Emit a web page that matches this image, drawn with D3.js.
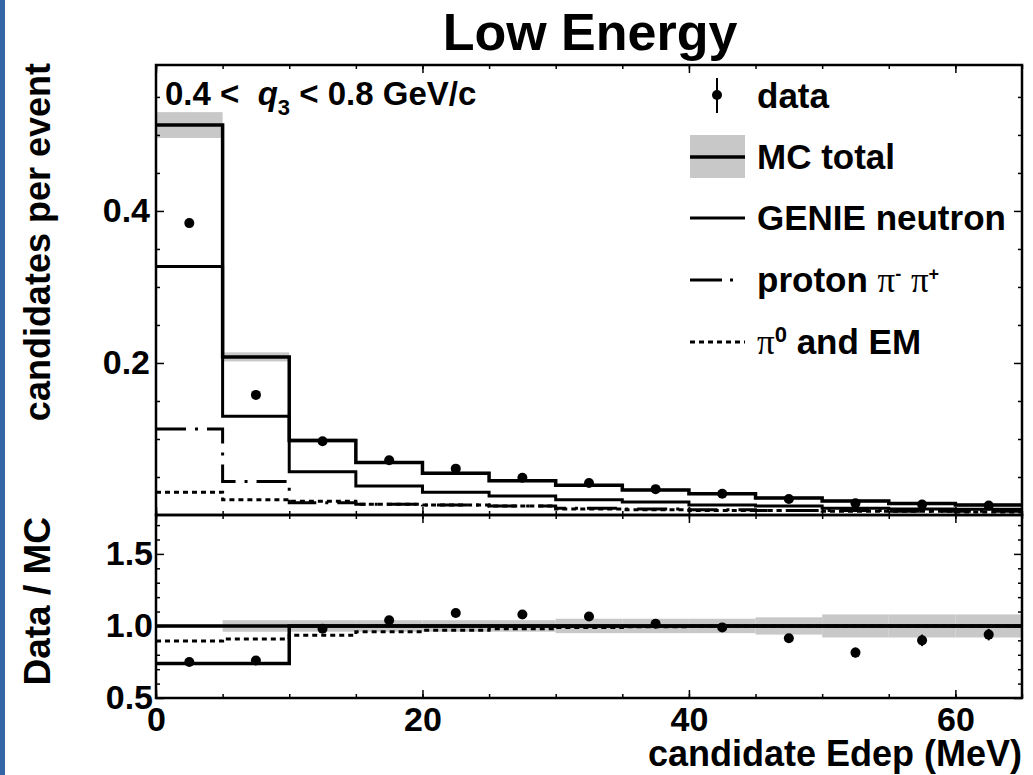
<!DOCTYPE html>
<html>
<head>
<meta charset="utf-8">
<script src="https://cdn.jsdelivr.net/npm/d3@7"></script>
<style>
  body { margin: 0; background: #fff; }
  svg text { font-family: "Liberation Sans", Arial, Helvetica, sans-serif; font-weight: bold; fill: #000; white-space: pre; }
  .serif { font-family: "Liberation Serif", "DejaVu Serif", serif; font-weight: normal; }
</style>
</head>
<body>
<script>
// ---- values ----
var binEdges = [0, 5, 10, 15, 20, 25, 30, 35, 40, 45, 50, 55, 60, 65];
var binCenters = [2.5, 7.5, 12.5, 17.5, 22.5, 27.5, 32.5, 37.5, 42.5, 47.5, 52.5, 57.5, 62.5];

// upper panel: candidates per event
var mcTotal      = [0.513, 0.208, 0.098, 0.069, 0.055, 0.045, 0.039, 0.033, 0.028, 0.0225, 0.0185, 0.015, 0.013];
var mcBand       = [0.017, 0.006, 0.003, 0.002, 0.002, 0.002, 0.002, 0.002, 0.002, 0.002, 0.002, 0.002, 0.002];
var genieNeutron = [0.327, 0.130, 0.057, 0.038, 0.030, 0.025, 0.020, 0.017, 0.013, 0.012, 0.009, 0.008, 0.0075];
var protonPion   = [0.113, 0.044, 0.016, 0.014, 0.013, 0.012, 0.009, 0.008, 0.007, 0.006, 0.006, 0.005, 0.005];
var pi0EM        = [0.030, 0.020, 0.018, 0.014, 0.013, 0.012, 0.008, 0.007, 0.006, 0.006, 0.005, 0.005, 0.004];
var dataValues   = [0.384, 0.158, 0.097, 0.072, 0.061, 0.049, 0.042, 0.034, 0.028, 0.021, 0.0155, 0.0138, 0.0124];
var dataErrors   = [0.004, 0.003, 0.002, 0.002, 0.002, 0.002, 0.002, 0.002, 0.002, 0.002, 0.002, 0.002, 0.002];

// lower panel: data / MC
var ratioData   = [0.75, 0.76, 0.98, 1.04, 1.09, 1.08, 1.065, 1.015, 0.99, 0.915, 0.815, 0.90, 0.94];
var ratioErrors = [0.01, 0.01, 0.015, 0.015, 0.02, 0.02, 0.025, 0.025, 0.03, 0.03, 0.035, 0.04, 0.04];
var ratioBand   = [0.01, 0.04, 0.04, 0.04, 0.04, 0.04, 0.05, 0.05, 0.05, 0.06, 0.08, 0.08, 0.08];
var ratioPi0    = [0.895, 0.91, 0.935, 0.96, 0.97, 0.98, 0.99, 0.995, 1.0, 1.0, 1.0, 1.0, 1.0];
var ratioAlt    = [0.74, 0.74, 1.0, 1.0, 1.0, 1.0, 1.0, 1.0, 1.0, 1.0, 1.0, 1.0, 1.0];

var xTicks = [0, 20, 40, 60];
var yTicksTop = [0.2, 0.4];
var yTicksBottom = [0.5, 1.0, 1.5];

// ---- layout ----
var W = 1033, H = 775;
var padL = 156, padR = 1022, padT = 65, splitY = 515, padB = 698;

var svg = d3.select("body").append("svg")
    .attr("width", W)
    .attr("height", H);

// blue strip on the left edge of the slide
svg.append("rect").attr("x", 0).attr("y", 0).attr("width", 5).attr("height", H).attr("fill", "#3465a4");

var x = d3.scaleLinear().domain([0, 65]).range([padL, padR]);
var yTop = d3.scaleLinear().domain([0, 0.592]).range([splitY, padT]);
var yBot = d3.scaleLinear().domain([0.5, 1.77]).range([padB, splitY]);

// step histogram path
function stepPath(values, y) {
  var pts = values.map(function(v, i) { return [binEdges[i], v]; });
  pts.push([binEdges[binEdges.length - 1], values[values.length - 1]]);
  return d3.line()
      .x(function(d) { return x(d[0]); })
      .y(function(d) { return y(d[1]); })
      .curve(d3.curveStepAfter)(pts);
}

var DOTTED = "5,4", DASHDOT = "30,9,3,9";

// ---------- upper panel ----------
var up = svg.append("g");

// MC error band
up.selectAll(".band")
    .data(mcTotal)
    .enter().append("rect")
    .attr("x", function(d, i) { return x(binEdges[i]); })
    .attr("width", function(d, i) { return x(binEdges[i + 1]) - x(binEdges[i]); })
    .attr("y", function(d, i) { return yTop(d + mcBand[i]); })
    .attr("height", function(d, i) { return yTop(d - mcBand[i]) - yTop(d + mcBand[i]); })
    .attr("fill", "#c8c8c8");

up.append("path").attr("d", stepPath(pi0EM, yTop))
    .attr("fill", "none").attr("stroke", "#000").attr("stroke-width", 3).attr("stroke-dasharray", DOTTED);
up.append("path").attr("d", stepPath(protonPion, yTop))
    .attr("fill", "none").attr("stroke", "#000").attr("stroke-width", 3).attr("stroke-dasharray", DASHDOT);
up.append("path").attr("d", stepPath(genieNeutron, yTop))
    .attr("fill", "none").attr("stroke", "#000").attr("stroke-width", 3);
up.append("path").attr("d", stepPath(mcTotal, yTop))
    .attr("fill", "none").attr("stroke", "#000").attr("stroke-width", 3.5);

// data points
up.selectAll(".err")
    .data(dataValues)
    .enter().append("line")
    .attr("x1", function(d, i) { return x(binCenters[i]); })
    .attr("x2", function(d, i) { return x(binCenters[i]); })
    .attr("y1", function(d, i) { return yTop(d - dataErrors[i]); })
    .attr("y2", function(d, i) { return yTop(d + dataErrors[i]); })
    .attr("stroke", "#000").attr("stroke-width", 2);
up.selectAll(".pt")
    .data(dataValues)
    .enter().append("circle")
    .attr("cx", function(d, i) { return x(binCenters[i]); })
    .attr("cy", function(d) { return yTop(d); })
    .attr("r", 5)
    .attr("fill", "#000");

// ---------- lower panel ----------
var lo = svg.append("g");

lo.selectAll(".rband")
    .data(ratioBand)
    .enter().append("rect")
    .attr("x", function(d, i) { return x(binEdges[i]); })
    .attr("width", function(d, i) { return x(binEdges[i + 1]) - x(binEdges[i]); })
    .attr("y", function(d) { return yBot(1 + d); })
    .attr("height", function(d) { return yBot(1 - d) - yBot(1 + d); })
    .attr("fill", "#c8c8c8");

lo.append("path").attr("d", stepPath(ratioPi0, yBot))
    .attr("fill", "none").attr("stroke", "#000").attr("stroke-width", 3).attr("stroke-dasharray", DOTTED);
lo.append("line")
    .attr("x1", x(0)).attr("x2", x(65)).attr("y1", yBot(1)).attr("y2", yBot(1))
    .attr("stroke", "#000").attr("stroke-width", 3.5);
lo.append("path").attr("d", stepPath(ratioAlt, yBot))
    .attr("fill", "none").attr("stroke", "#000").attr("stroke-width", 3.5);

lo.selectAll(".rerr")
    .data(ratioData)
    .enter().append("line")
    .attr("x1", function(d, i) { return x(binCenters[i]); })
    .attr("x2", function(d, i) { return x(binCenters[i]); })
    .attr("y1", function(d, i) { return yBot(d - ratioErrors[i]); })
    .attr("y2", function(d, i) { return yBot(d + ratioErrors[i]); })
    .attr("stroke", "#000").attr("stroke-width", 2);
lo.selectAll(".rpt")
    .data(ratioData)
    .enter().append("circle")
    .attr("cx", function(d, i) { return x(binCenters[i]); })
    .attr("cy", function(d) { return yBot(d); })
    .attr("r", 5)
    .attr("fill", "#000");

// ---------- frames and ticks ----------
function ticks(axis, tx, ty) {
  var g = svg.append("g").attr("transform", "translate(" + tx + "," + ty + ")").call(axis);
  g.select(".domain").remove();
  g.selectAll("line").attr("stroke", "#000").attr("stroke-width", 1.5);
  return g;
}
var minorX = d3.range(0, 66, 5);
var noLabel = function() { return ""; };

// x ticks on all horizontal edges, pointing into the frame
[[padT, "down"], [splitY, "up"], [splitY, "down"], [padB, "up"]].forEach(function(e) {
  var mk = e[1] == "down" ? d3.axisBottom : d3.axisTop;
  ticks(mk(x).tickValues(minorX).tickSize(4).tickFormat(noLabel), 0, e[0]);
  ticks(mk(x).tickValues(xTicks).tickSize(8).tickFormat(noLabel), 0, e[0]);
});

// y ticks, both sides
var minorTop = [0.05, 0.1, 0.15, 0.25, 0.3, 0.35, 0.45, 0.5, 0.55];
var minorBot = [0.6, 0.7, 0.8, 0.9, 1.1, 1.2, 1.3, 1.4, 1.6, 1.7];
ticks(d3.axisRight(yTop).tickValues(minorTop).tickSize(4).tickFormat(noLabel), padL, 0);
ticks(d3.axisLeft(yTop).tickValues(minorTop).tickSize(4).tickFormat(noLabel), padR, 0);
ticks(d3.axisRight(yTop).tickValues(yTicksTop).tickSize(8).tickFormat(noLabel), padL, 0);
ticks(d3.axisLeft(yTop).tickValues(yTicksTop).tickSize(8).tickFormat(noLabel), padR, 0);
ticks(d3.axisRight(yBot).tickValues(minorBot).tickSize(4).tickFormat(noLabel), padL, 0);
ticks(d3.axisLeft(yBot).tickValues(minorBot).tickSize(4).tickFormat(noLabel), padR, 0);
ticks(d3.axisRight(yBot).tickValues(yTicksBottom).tickSize(8).tickFormat(noLabel), padL, 0);
ticks(d3.axisLeft(yBot).tickValues(yTicksBottom).tickSize(8).tickFormat(noLabel), padR, 0);

// tick labels
var xl = ticks(d3.axisBottom(x).tickValues(xTicks).tickSize(0).tickPadding(9).tickFormat(d3.format("d")), 0, padB);
xl.selectAll("text").style("font-size", "34px");
var yl1 = ticks(d3.axisLeft(yTop).tickValues(yTicksTop).tickSize(0).tickPadding(6).tickFormat(d3.format(".1f")), padL, 0);
yl1.selectAll("text").style("font-size", "34px");
var yl2 = ticks(d3.axisLeft(yBot).tickValues(yTicksBottom).tickSize(0).tickPadding(3).tickFormat(d3.format(".1f")), padL, 0);
yl2.selectAll("text").style("font-size", "34px");
svg.selectAll(".tick text").style("font-family", "'Liberation Sans', Arial, sans-serif").style("font-weight", "bold").attr("fill", "#000");

svg.append("rect").attr("x", padL).attr("y", padT).attr("width", padR - padL).attr("height", splitY - padT)
    .attr("fill", "none").attr("stroke", "#000").attr("stroke-width", 2.5);
svg.append("rect").attr("x", padL).attr("y", splitY).attr("width", padR - padL).attr("height", padB - splitY)
    .attr("fill", "none").attr("stroke", "#000").attr("stroke-width", 2.5);

// ---------- texts ----------
svg.append("text").attr("x", 590).attr("y", 50).attr("text-anchor", "middle")
    .style("font-size", "52px").text("Low Energy");

svg.append("text").attr("transform", "translate(50,63) rotate(-90)").attr("text-anchor", "end")
    .style("font-size", "36px").text("candidates per event");
svg.append("text").attr("transform", "translate(50,517) rotate(-90)").attr("text-anchor", "end")
    .style("font-size", "37px").text("Data / MC");
svg.append("text").attr("x", padR).attr("y", 766).attr("text-anchor", "end")
    .style("font-size", "36px").text("candidate Edep (MeV)");

// q3 range
var q = svg.append("text").attr("x", 165).attr("y", 105).style("font-size", "33px");
q.append("tspan").text("0.4 <  ");
q.append("tspan").style("font-style", "italic").text("q");
q.append("tspan").attr("dy", 10).style("font-size", "22px").text("3");
q.append("tspan").attr("dy", -10).text(" < 0.8 GeV/c");

// ---------- legend ----------
var lx0 = 690, lx1 = 745, tx = 757;
var lg = svg.append("g");
lg.append("line").attr("x1", 717).attr("x2", 717).attr("y1", 78).attr("y2", 113).attr("stroke", "#000").attr("stroke-width", 2);
lg.append("circle").attr("cx", 717).attr("cy", 95).attr("r", 5).attr("fill", "#000");
lg.append("rect").attr("x", lx0).attr("y", 135).attr("width", lx1 - lx0).attr("height", 43).attr("fill", "#c8c8c8");
lg.append("line").attr("x1", lx0).attr("x2", lx1).attr("y1", 157).attr("y2", 157).attr("stroke", "#000").attr("stroke-width", 3.5);
lg.append("line").attr("x1", lx0).attr("x2", lx1).attr("y1", 218).attr("y2", 218).attr("stroke", "#000").attr("stroke-width", 3);
lg.append("line").attr("x1", lx0).attr("x2", lx1).attr("y1", 280).attr("y2", 280).attr("stroke", "#000").attr("stroke-width", 3)
    .attr("stroke-dasharray", "32,8,3,20");
lg.append("line").attr("x1", lx0).attr("x2", lx1).attr("y1", 342).attr("y2", 342).attr("stroke", "#000").attr("stroke-width", 3)
    .attr("stroke-dasharray", DOTTED);

function legendText(y) {
  return lg.append("text").attr("x", tx).attr("y", y).style("font-size", "35px");
}
legendText(108).text("data");
legendText(169).text("MC total");
legendText(230).text("GENIE neutron");
var pt = legendText(292);
pt.append("tspan").text("proton ");
pt.append("tspan").attr("class", "serif").text("π");
pt.append("tspan").attr("dy", -12).style("font-size", "18px").text("-");
pt.append("tspan").attr("dy", 12).text(" ");
pt.append("tspan").attr("class", "serif").text("π");
pt.append("tspan").attr("dy", -12).style("font-size", "18px").text("+");
var p0 = legendText(354);
p0.append("tspan").attr("class", "serif").text("π");
p0.append("tspan").attr("dy", -12).style("font-size", "22px").text("0");
p0.append("tspan").attr("dy", 12).text(" and EM");
</script>
</body>
</html>
